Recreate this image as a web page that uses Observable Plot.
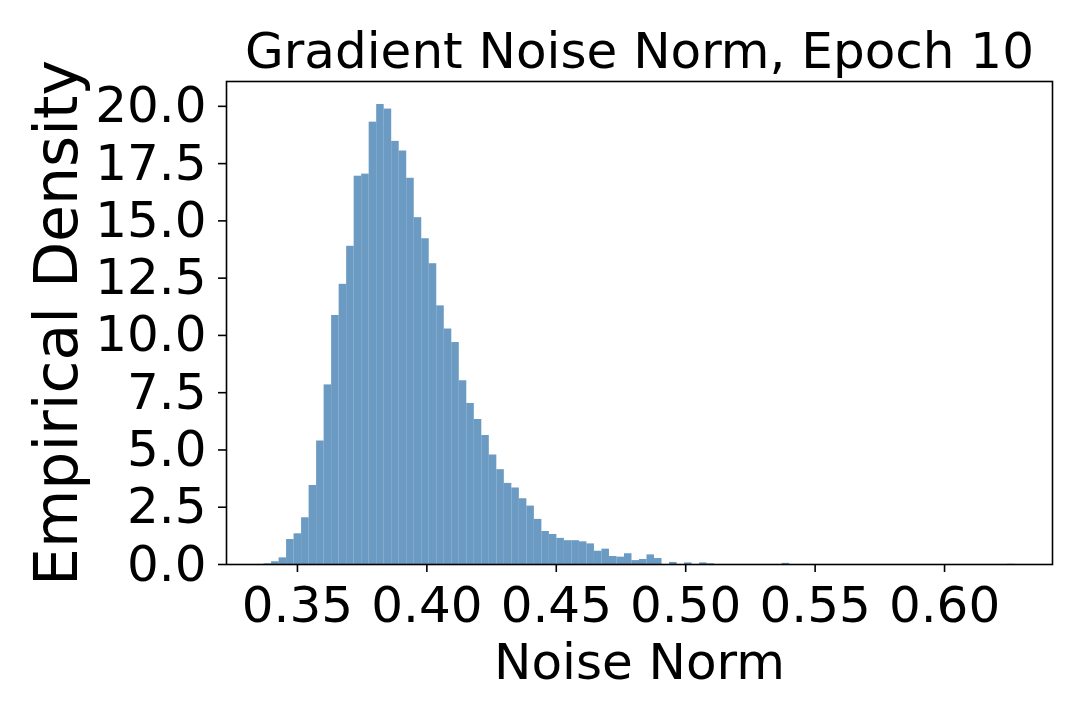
<!DOCTYPE html>
<html>
<head>
<meta charset="utf-8">
<script src="https://cdn.jsdelivr.net/npm/d3@7"></script>
<script src="https://cdn.jsdelivr.net/npm/@observablehq/plot@0.6"></script>
<style>
  html, body { margin: 0; padding: 0; background: #fff; }
  #chart { width: 1080px; height: 720px; }
</style>
</head>
<body>
<div id="chart"></div>
<script>
// Histogram definition (100 bins)
const binLow = 0.3371;
const binHigh = 0.6272;
const binCount = 100;
// Empirical density per bin
const densities = [
  0.03, 0.12, 0.29, 1.09, 1.34, 2.04, 3.45, 5.39, 7.84, 10.87,
  12.23, 13.89, 16.95, 17.04, 19.31, 20.08, 19.88, 18.47, 18.05, 16.86,
  15.14, 14.22, 13.13, 11.29, 10.28, 9.69, 8.02, 7.03, 6.33, 5.63,
  4.78, 4.14, 3.54, 3.34, 2.87, 2.55, 1.97, 1.44, 1.31, 1.14,
  1.04, 1.04, 0.99, 0.90, 0.58, 0.67, 0.35, 0.32, 0.47, 0.17,
  0.22, 0.42, 0.26, 0, 0.09, 0, 0.07, 0, 0.07, 0.03,
  0, 0, 0, 0, 0, 0, 0, 0, 0, 0.05,
  0, 0, 0, 0, 0, 0, 0, 0, 0, 0,
  0, 0, 0, 0, 0, 0, 0, 0, 0, 0,
  0, 0, 0, 0, 0, 0, 0, 0, 0, 0.01
];
const xTicks = [0.35, 0.40, 0.45, 0.50, 0.55, 0.60];
const yTicks = [0, 2.5, 5, 7.5, 10, 12.5, 15, 17.5, 20];
const titleText = "Gradient Noise Norm, Epoch 10";
const xLabel = "Noise Norm";
const yLabel = "Empirical Density";

const binWidth = (binHigh - binLow) / binCount;
const bins = densities.map((d, i) => ({
  x1: binLow + i * binWidth,
  x2: binLow + (i + 1) * binWidth,
  y: d
}));

const span = binHigh - binLow;
const xDomain = [binLow - 0.05 * span, binHigh + 0.05 * span];
const yMax = d3.max(densities) * 1.05;

const chart = Plot.plot({
  width: 1080,
  height: 720,
  marginLeft: 226,
  marginRight: 28,
  marginTop: 81,
  marginBottom: 156,
  style: { fontFamily: "DejaVu Sans", background: "white", color: "black" },
  x: { domain: xDomain },
  y: { domain: [0, yMax] },
  marks: [
    Plot.rectY(bins, { x1: "x1", x2: "x2", y: "y", fill: "steelblue", fillOpacity: 0.8, inset: 0 }),
    Plot.frame({ stroke: "black", strokeWidth: 1.6 }),
    Plot.axisX({ ticks: xTicks, tickFormat: d3.format(".2f"), tickSize: 8, tickPadding: 14, fontSize: 50, label: null, stroke: "black", strokeWidth: 1.6 }),
    Plot.axisY({ ticks: yTicks, tickFormat: d3.format(".1f"), tickSize: 8, tickPadding: 12, fontSize: 50, label: null, stroke: "black", strokeWidth: 1.6 }),
    Plot.text([titleText], { frameAnchor: "top", text: d => d, fontSize: 50, lineAnchor: "bottom", dy: -14, fill: "black" }),
    Plot.text([xLabel], { frameAnchor: "bottom", text: d => d, fontSize: 50, lineAnchor: "bottom", dy: 114, fill: "black" }),
    Plot.text([yLabel], { frameAnchor: "left", text: d => d, fontSize: 60, rotate: -90, textAnchor: "middle", lineAnchor: "bottom", dx: -150, fill: "black" })
  ]
});
document.getElementById("chart").appendChild(chart);
</script>
</body>
</html>
